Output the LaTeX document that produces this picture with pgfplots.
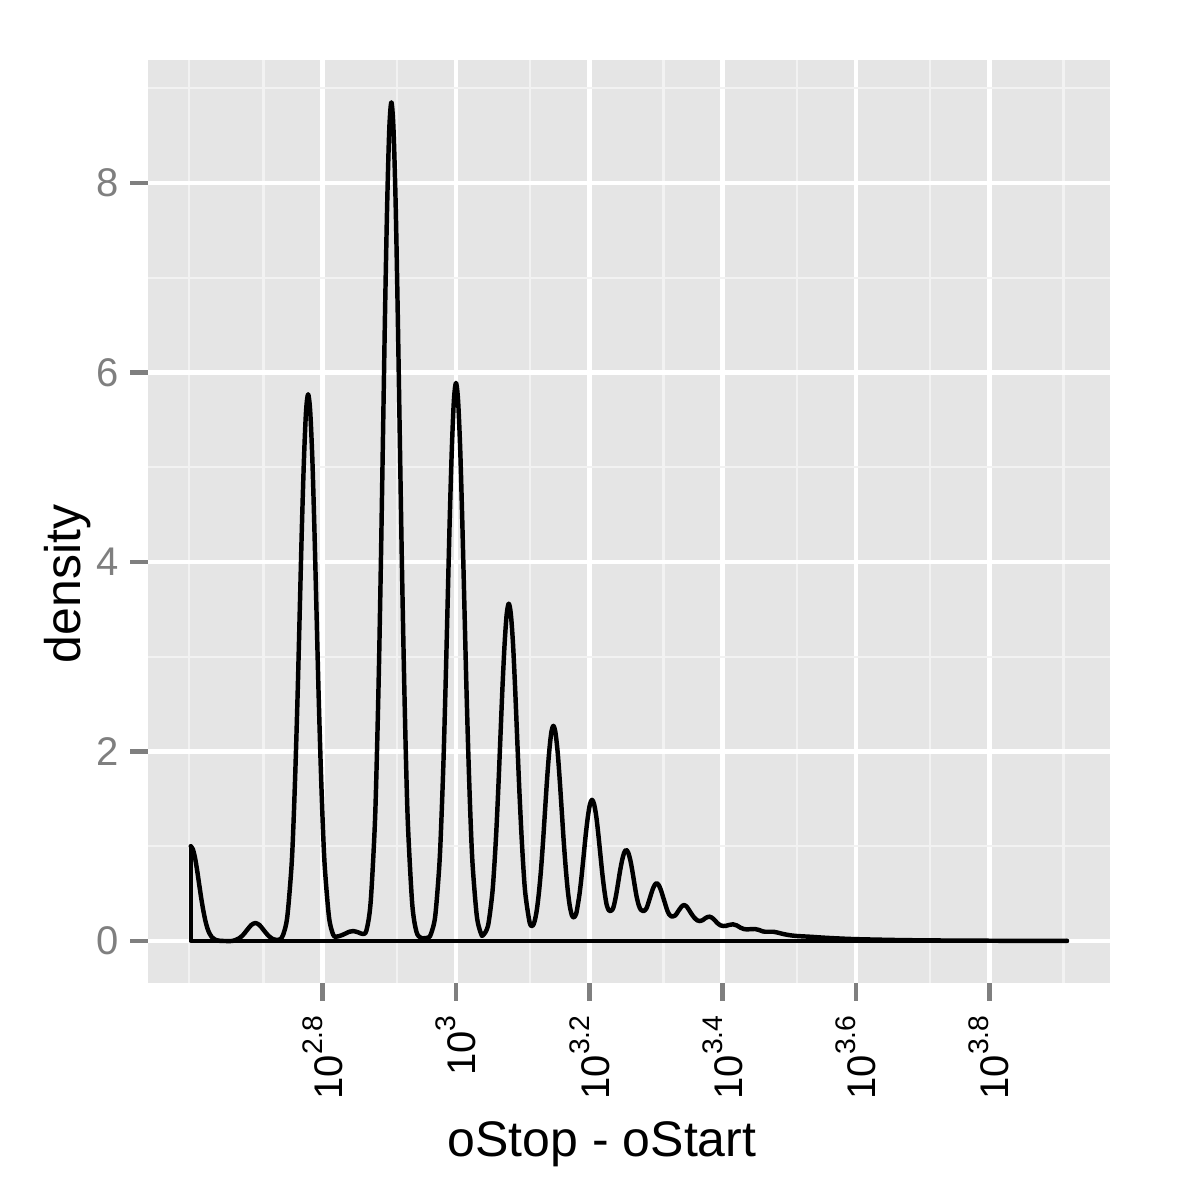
\documentclass[border=0pt]{standalone}
\usepackage{fontspec}
\setmainfont{Liberation Sans}
\usepackage{pgfplots}
\pgfplotsset{compat=1.18}
\definecolor{panelgrey}{HTML}{E5E5E5}
\definecolor{gridminor}{HTML}{F2F2F2}
\definecolor{ticgrey}{HTML}{7F7F7F}
\newcommand{\tenpow}[1]{10\raisebox{4.8pt}{\fontsize{6.8}{8}\selectfont #1}}
\begin{document}
\begin{tikzpicture}
\path[use as bounding box] (0,0) rectangle (288pt,288pt);
\begin{axis}[
  at={(35.52pt,52.08pt)}, anchor=south west,
  scale only axis, width=230.88pt, height=221.52pt,
  xmin=2.5380, xmax=3.9811, ymin=-0.443, ymax=9.298,
  axis background/.style={fill=panelgrey},
  axis line style={draw=none},
  xtick={2.8,3.0,3.2,3.4,3.6,3.8},
  xticklabels={{\tenpow{2.8}},{\tenpow{3}},{\tenpow{3.2}},{\tenpow{3.4}},{\tenpow{3.6}},{\tenpow{3.8}}},
  ytick={0,2,4,6,8},
  yticklabels={0,2,4,6,8},
  minor xtick={2.6,2.7114,2.9114,3.1114,3.3114,3.5114,3.7114,3.9114},
  minor ytick={1,3,5,7,9},
  grid=both,
  major grid style={white, line width=1.07pt},
  minor grid style={gridminor, line width=0.53pt},
  tick align=outside,
  major tick length=4.25pt, minor tick length=0pt,
  tick style={ticgrey, line width=1.07pt},
  xtick pos=left, ytick pos=left,
  yticklabel style={font=\fontsize{9.6}{11}\selectfont, text=ticgrey, anchor=east, inner sep=0pt, xshift=-2.64pt},
  xticklabel style={yshift=-3.36pt, font=\fontsize{9.6}{11}\selectfont, text=black, rotate=90, anchor=east, inner sep=0pt},
]
\addplot[black, line width=1.07pt, line join=round, line cap=round] coordinates {
(2.6021,1.000) (2.6021,0) (3.9166,0) (3.9166,0.001)};
\addplot[black, line width=1.07pt, line join=round, line cap=round, smooth, tension=0.5] coordinates {
(2.6021,1.000) (2.6052,0.970) (2.6084,0.883) (2.6115,0.755) (2.6146,0.607) (2.6177,0.458)
(2.6209,0.325) (2.6240,0.216) (2.6271,0.135) (2.6302,0.080) (2.6334,0.044) (2.6396,0.011)
(2.6459,0.002) (2.6550,0.000) (2.6650,0.001) (2.6740,0.026) (2.6803,0.062) (2.6865,0.115)
(2.6928,0.168) (2.6990,0.190) (2.7053,0.168) (2.7115,0.115) (2.7178,0.062) (2.7240,0.026)
(2.7303,0.012) (2.7360,0.018) (2.7407,0.065) (2.7469,0.253) (2.7532,0.781) (2.7563,1.248)
(2.7594,1.874) (2.7626,2.641) (2.7657,3.500) (2.7688,4.355) (2.7720,5.092) (2.7751,5.592)
(2.7782,5.770) (2.7813,5.592) (2.7845,5.092) (2.7876,4.355) (2.7907,3.500) (2.7938,2.641)
(2.7970,1.874) (2.8001,1.248) (2.8032,0.781) (2.8095,0.253) (2.8157,0.068) (2.8202,0.045)
(2.8300,0.065) (2.8400,0.098) (2.8460,0.105) (2.8540,0.090) (2.8600,0.075) (2.8656,0.110)
(2.8719,0.400) (2.8781,1.197) (2.8812,1.914) (2.8844,2.874) (2.8875,4.052) (2.8906,5.368)
(2.8937,6.680) (2.8969,7.810) (2.9000,8.577) (2.9031,8.850) (2.9062,8.577) (2.9094,7.810)
(2.9125,6.680) (2.9156,5.368) (2.9187,4.052) (2.9219,2.874) (2.9250,1.914) (2.9281,1.197)
(2.9344,0.389) (2.9406,0.100) (2.9469,0.035) (2.9530,0.030) (2.9594,0.040) (2.9625,0.075)
(2.9688,0.259) (2.9750,0.797) (2.9781,1.274) (2.9813,1.912) (2.9844,2.696) (2.9875,3.572)
(2.9906,4.446) (2.9938,5.198) (2.9969,5.708) (3.0000,5.890) (3.0031,5.708) (3.0063,5.198)
(3.0094,4.446) (3.0125,3.572) (3.0156,2.696) (3.0188,1.912) (3.0219,1.274) (3.0250,0.797)
(3.0313,0.261) (3.0375,0.078) (3.0405,0.060) (3.0480,0.160) (3.0542,0.482) (3.0573,0.770)
(3.0605,1.156) (3.0636,1.630) (3.0667,2.159) (3.0698,2.687) (3.0730,3.142) (3.0761,3.450)
(3.0792,3.560) (3.0823,3.450) (3.0855,3.142) (3.0886,2.687) (3.0917,2.159) (3.0948,1.630)
(3.0980,1.157) (3.1011,0.773) (3.1042,0.490) (3.1105,0.195) (3.1149,0.160) (3.1180,0.210)
(3.1211,0.320) (3.1242,0.496) (3.1274,0.739) (3.1305,1.039) (3.1336,1.377) (3.1367,1.713)
(3.1399,2.003) (3.1430,2.200) (3.1461,2.270) (3.1492,2.200) (3.1524,2.003) (3.1555,1.713)
(3.1586,1.379) (3.1617,1.044) (3.1649,0.748) (3.1680,0.514) (3.1711,0.353) (3.1742,0.266)
(3.1772,0.250) (3.1804,0.290) (3.1822,0.357) (3.1854,0.500) (3.1885,0.689) (3.1916,0.907)
(3.1947,1.125) (3.1979,1.315) (3.2010,1.444) (3.2041,1.490) (3.2072,1.444) (3.2104,1.317)
(3.2135,1.129) (3.2166,0.912) (3.2197,0.699) (3.2229,0.517) (3.2260,0.384) (3.2291,0.325)
(3.2318,0.315) (3.2345,0.330) (3.2366,0.365) (3.2397,0.465) (3.2428,0.594) (3.2459,0.731)
(3.2491,0.849) (3.2522,0.930) (3.2553,0.961) (3.2584,0.932) (3.2616,0.851) (3.2647,0.734)
(3.2678,0.599) (3.2709,0.471) (3.2741,0.380) (3.2772,0.330) (3.2810,0.315) (3.2854,0.340)
(3.2885,0.400) (3.2916,0.470) (3.2948,0.540) (3.2979,0.590) (3.3010,0.610) (3.3041,0.590)
(3.3073,0.540) (3.3104,0.470) (3.3135,0.400) (3.3166,0.330) (3.3198,0.280) (3.3245,0.257)
(3.3290,0.270) (3.3330,0.310) (3.3380,0.360) (3.3424,0.380) (3.3470,0.355) (3.3520,0.300)
(3.3570,0.250) (3.3620,0.218) (3.3660,0.210) (3.3700,0.220) (3.3750,0.245) (3.3805,0.257)
(3.3860,0.235) (3.3920,0.190) (3.3970,0.165) (3.4010,0.158) (3.4050,0.160) (3.4100,0.170)
(3.4155,0.176) (3.4210,0.165) (3.4270,0.140) (3.4320,0.126) (3.4361,0.123) (3.4420,0.125)
(3.4480,0.127) (3.4540,0.118) (3.4600,0.102) (3.4635,0.098) (3.4700,0.098) (3.4760,0.098)
(3.4830,0.088) (3.4910,0.074) (3.5000,0.062) (3.5111,0.053) (3.5311,0.045) (3.5500,0.036)
(3.5656,0.030) (3.5900,0.022) (3.6161,0.017) (3.6660,0.010) (3.7200,0.006) (3.8000,0.003)
(3.8600,0.0015) (3.9166,0.001)
};
\end{axis}
\node[anchor=base, font=\fontsize{12}{14}\selectfont] at (144.5pt,10.32pt) {oStop - oStart};
\node[anchor=base, rotate=90, font=\fontsize{12}{14}\selectfont] at (19.2pt,147.84pt) {density};
\end{tikzpicture}
\end{document}
